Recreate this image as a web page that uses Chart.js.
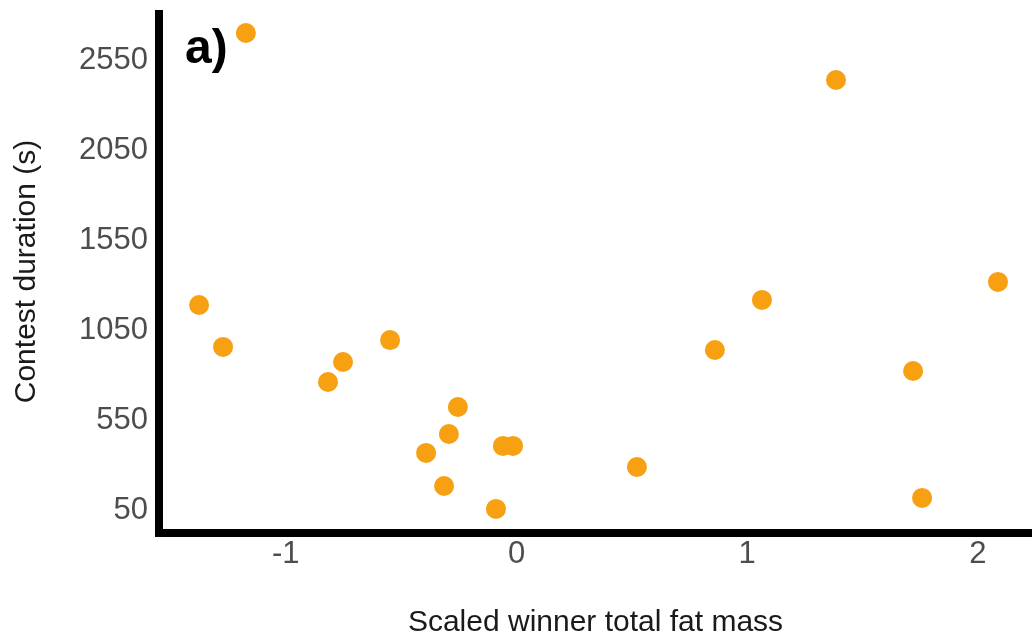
<!DOCTYPE html>
<html>
<head>
<meta charset="utf-8">
<script src="https://cdn.jsdelivr.net/npm/chart.js@4"></script>
<style>
  html, body { margin: 0; padding: 0; background: #fff; }
  #wrap { width: 1032px; height: 642px; }
</style>
</head>
<body>
<div id="wrap"><canvas id="chart" width="1032" height="642"></canvas></div>
<script>
// values
const fatMass  = [-1.173, 1.385, -1.376, -1.272, 1.064, 2.087, -0.548, -0.752, -0.817, 0.860,
                   1.719, -0.254, -0.293, -0.392, -0.314, -0.089, -0.059, -0.015, 0.522, 1.758];
const duration = [2700, 2439, 1189, 956, 1217, 1317, 994, 872, 761, 939,
                   822, 622, 472, 367, 183, 56, 406, 406, 289, 117];
const xTicks   = [-1, 0, 1, 2];
const yTicks   = [50, 550, 1050, 1550, 2050, 2550];

const FONT  = 'Liberation Sans, Arial, sans-serif';
const DOT   = '#f6a012';

const points = fatMass.map((x, i) => ({ x, y: duration[i] }));

// drop the label overhang padding chart.js adds, so the plot area is exact
function noPad(s) {
  s.paddingTop = 0; s.paddingBottom = 0;
  s.paddingLeft = 0; s.paddingRight = 0;
}

// thick L-shaped axis lines like theme_classic
const axisLines = {
  id: 'axisLines',
  afterDraw(chart) {
    const { ctx, chartArea: a } = chart;
    ctx.save();
    ctx.strokeStyle = '#000';
    ctx.lineWidth = 8;
    ctx.lineJoin = 'miter';
    ctx.beginPath();
    ctx.moveTo(a.left, a.top);
    ctx.lineTo(a.left, a.bottom);
    ctx.lineTo(a.right, a.bottom);
    ctx.stroke();
    ctx.restore();
  }
};

// panel tag "a)"
const panelTag = {
  id: 'panelTag',
  afterDraw(chart) {
    const { ctx, chartArea: a } = chart;
    ctx.save();
    ctx.fillStyle = '#000';
    ctx.font = `bold 48px ${FONT}`;
    ctx.textBaseline = 'alphabetic';
    ctx.fillText('a)', a.left + 26, 63);
    ctx.restore();
  }
};

new Chart(document.getElementById('chart'), {
  type: 'scatter',
  data: {
    datasets: [{
      data: points,
      backgroundColor: DOT,
      borderWidth: 0,
      pointRadius: 10,
      pointHoverRadius: 10
    }]
  },
  options: {
    responsive: false,
    animation: false,
    layout: { autoPadding: false, padding: { top: 10, left: 0, right: 0, bottom: 0 } },
    plugins: { legend: { display: false }, tooltip: { enabled: false } },
    scales: {
      x: {
        type: 'linear',
        min: -1.5496,
        max: 2.2345,
        afterFit: s => { s.height = 109; noPad(s); },
        afterBuildTicks: s => { s.ticks = xTicks.map(v => ({ value: v })); },
        grid: { display: false, drawTicks: false },
        border: { display: false },
        ticks: {
          color: '#4d4d4d', font: { family: FONT, size: 31 }, padding: 3, maxRotation: 0,
          callback: v => String(v)
        },
        title: {
          display: true,
          text: 'Scaled winner total fat mass',
          color: '#1a1a1a',
          font: { family: FONT, size: 30 },
          padding: { top: 0, bottom: 1 }
        }
      },
      y: {
        type: 'linear',
        min: -78,
        max: 2828,
        afterFit: s => { s.width = 159; noPad(s); },
        afterBuildTicks: s => { s.ticks = yTicks.map(v => ({ value: v })); },
        grid: { display: false, drawTicks: false },
        border: { display: false },
        ticks: {
          color: '#4d4d4d', font: { family: FONT, size: 31 }, padding: 11,
          callback: v => String(v)
        },
        title: {
          display: true,
          text: 'Contest duration (s)',
          color: '#1a1a1a',
          font: { family: FONT, size: 30 },
          padding: { top: 9, bottom: 0 }
        }
      }
    }
  },
  plugins: [axisLines, panelTag]
});
</script>
</body>
</html>
